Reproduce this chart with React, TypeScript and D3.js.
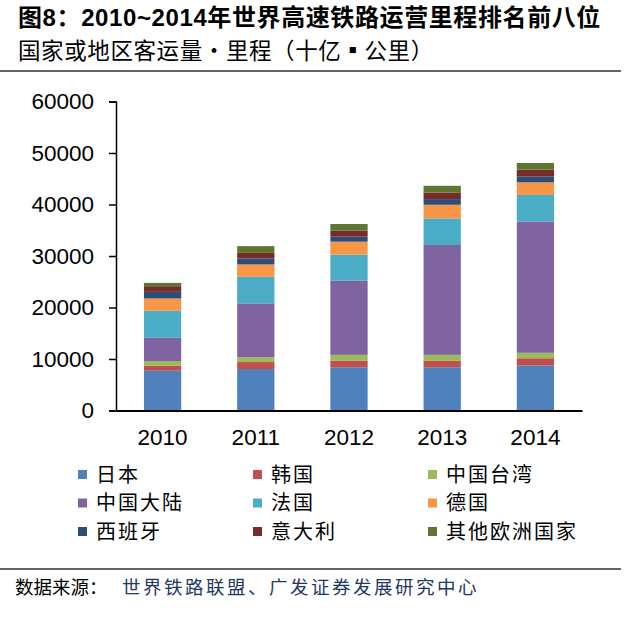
import React, { useEffect, useRef } from 'react';
import * as d3 from 'd3';

// 数据：各国家或地区客运量·里程（十亿公里）
const years = ['2010', '2011', '2012', '2013', '2014'];
const seriesNames = ['日本', '韩国', '中国台湾', '中国大陆', '法国', '德国', '西班牙', '意大利', '其他欧洲国家'];
const japan = [7720, 8050, 8400, 8400, 8730];
const korea = [970, 1360, 1300, 1300, 1420];
const taiwan = [910, 910, 1100, 1100, 1050];
const mainland = [4520, 10480, 14420, 21340, 25470];
const france = [5240, 5160, 5040, 5160, 5180];
const germany = [2400, 2400, 2520, 2650, 2450];
const spain = [1280, 1160, 970, 1100, 1160];
const italy = [1100, 1090, 1160, 1280, 1300];
const otherEurope = [640, 1300, 1300, 1300, 1300];
const yTicks = [0, 10000, 20000, 30000, 40000, 50000, 60000];

const colors = ['#4F81BD', '#C0504D', '#9BBB59', '#8064A2', '#4BACC6', '#F79646', '#2C4D75', '#772C2A', '#5F7530'];

const App = () => {
  const svgRef = useRef<SVGSVGElement>(null);

  useEffect(() => {
    const allSeries = [japan, korea, taiwan, mainland, france, germany, spain, italy, otherEurope];
    const rows = years.map((year, i) => {
      const row: any = { year };
      seriesNames.forEach((name, j) => { row[name] = allSeries[j][i]; });
      return row;
    });

    const svg = d3.select(svgRef.current);
    svg.selectAll('*').remove();

    const cjk = '"Noto Sans CJK SC", sans-serif';
    const latin = '"Liberation Sans", Arial, "Noto Sans CJK SC", sans-serif';

    // title
    svg.append('text')
      .attr('x', 18).attr('y', 26)
      .attr('font-family', latin).attr('font-weight', 'bold').attr('font-size', 24)
      .attr('letter-spacing', 0.6)
      .attr('fill', '#000')
      .text('图8：2010~2014年世界高速铁路运营里程排名前八位');
    svg.append('text')
      .attr('x', 18).attr('y', 59)
      .attr('font-family', cjk).attr('font-size', 22.5).attr('letter-spacing', 0.6)
      .attr('fill', '#000')
      .text('国家或地区客运量·里程（十亿▪公里）');
    svg.append('line')
      .attr('x1', 0).attr('x2', 621).attr('y1', 71).attr('y2', 71)
      .attr('stroke', '#333').attr('stroke-width', 1.5);

    // scales
    const left = 116, right = 582, top = 101.5, bottom = 410.5;
    const x = d3.scaleBand().domain(years).range([left, right]).paddingInner(0.6).paddingOuter(0.3);
    const y = d3.scaleLinear().domain([0, 60000]).range([bottom, top]);

    const stacked = d3.stack().keys(seriesNames)(rows);

    svg.append('g')
      .selectAll('g')
      .data(stacked)
      .join('g')
      .attr('fill', (d, i) => colors[i])
      .selectAll('rect')
      .data(d => d)
      .join('rect')
      .attr('x', d => x(d.data.year as any))
      .attr('y', d => y(d[1]))
      .attr('width', x.bandwidth())
      .attr('height', d => y(d[0]) - y(d[1]));

    // y axis
    const yAxis = svg.append('g')
      .attr('transform', `translate(${left},0)`)
      .call(d3.axisLeft(y).tickValues(yTicks).tickSize(7).tickPadding(15).tickFormat(d3.format('d')));
    yAxis.select('.domain').attr('stroke', '#000').attr('stroke-width', 1.5);
    yAxis.selectAll('.tick line').attr('stroke', '#000').attr('stroke-width', 1.5);
    yAxis.selectAll('.tick text')
      .attr('font-family', latin).attr('font-size', 22.5).attr('fill', '#000');

    // x axis
    const xAxis = svg.append('g')
      .attr('transform', `translate(0,${bottom})`)
      .call(d3.axisBottom(x).tickSize(0).tickPadding(19));
    xAxis.select('.domain').attr('stroke', '#000').attr('stroke-width', 2);
    xAxis.selectAll('.tick text')
      .attr('font-family', latin).attr('font-size', 22.5).attr('fill', '#000');

    // legend
    const colX = [78, 253, 428];
    const rowY = [474.5, 503, 531.5];
    const legend = svg.append('g');
    seriesNames.forEach((name, i) => {
      const cx = colX[i % 3];
      const cy = rowY[Math.floor(i / 3)];
      legend.append('rect')
        .attr('x', cx).attr('y', cy - 4.5).attr('width', 9).attr('height', 9)
        .attr('fill', colors[i]);
      legend.append('text')
        .attr('x', cx + 18).attr('y', cy + 7)
        .attr('font-family', cjk).attr('font-size', 20).attr('letter-spacing', 2)
        .attr('fill', '#000')
        .text(name);
    });

    // source
    svg.append('line')
      .attr('x1', 0).attr('x2', 621).attr('y1', 569).attr('y2', 569)
      .attr('stroke', '#333').attr('stroke-width', 1.5);
    const src = svg.append('text')
      .attr('x', 15).attr('y', 594)
      .attr('font-family', cjk).attr('font-size', 18.5);
    src.append('tspan').attr('fill', '#000').text('数据来源：');
    src.append('tspan').attr('x', 122).attr('fill', '#1F3864').attr('letter-spacing', 2.5)
      .text('世界铁路联盟、广发证券发展研究中心');
  }, []);

  return (
    <svg
      ref={svgRef}
      width={640}
      height={628}
      style={{ position: 'absolute', left: 0, top: 0, background: '#fff' }}
    />
  );
};

export default App;
